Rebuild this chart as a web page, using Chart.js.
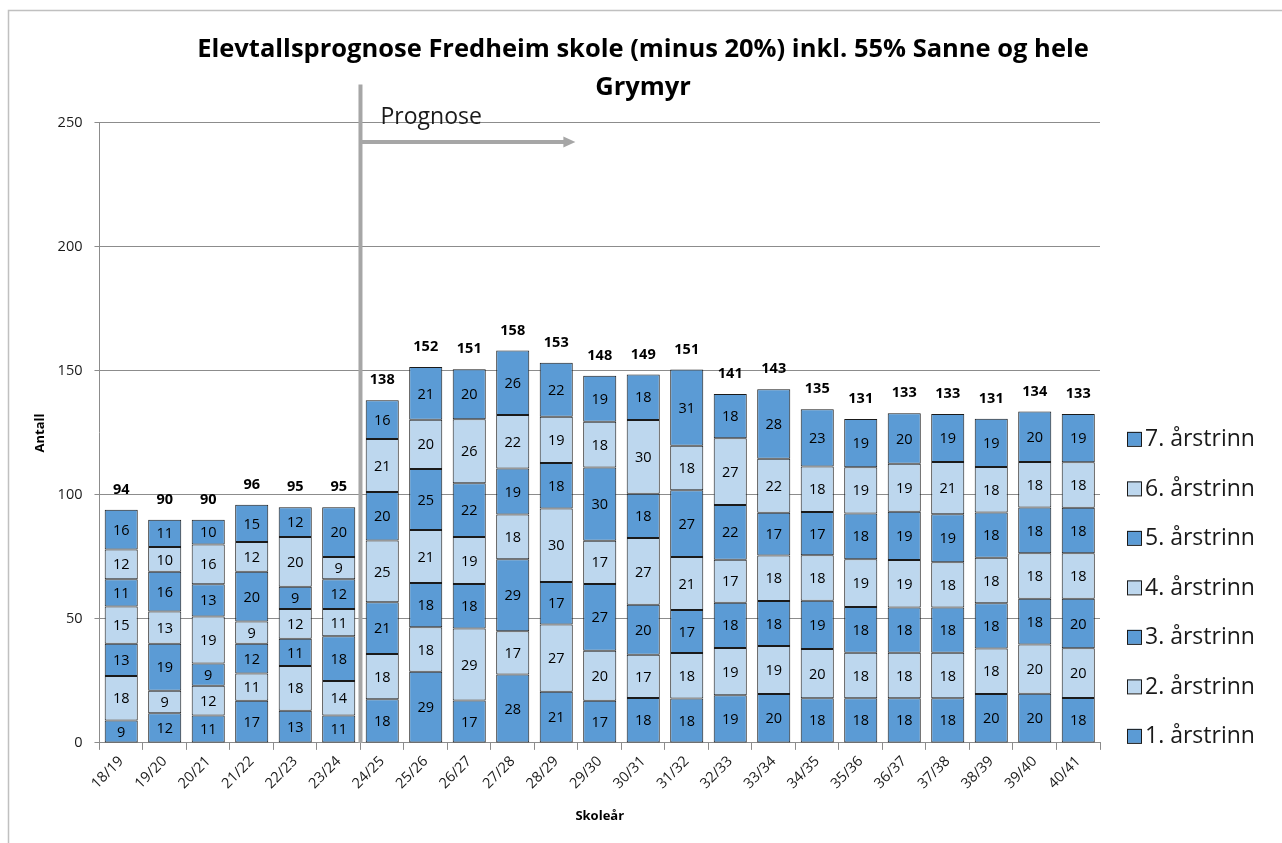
<!DOCTYPE html>
<html>
<head>
<meta charset="utf-8">
<script src="https://cdn.jsdelivr.net/npm/chart.js@4.4.0/dist/chart.umd.min.js"></script>
<style>
  body { margin: 0; background: #fff; }
  #wrap { width: 1282px; height: 843px; }
</style>
</head>
<body>
<div id="wrap"><canvas id="elevChart" width="1282" height="843"></canvas></div>
<script>
// Skoleår (x-akse)
const skoleaar = ['18/19', '19/20', '20/21', '21/22', '22/23', '23/24', '24/25', '25/26', '26/27', '27/28', '28/29', '29/30',
    '30/31', '31/32', '32/33', '33/34', '34/35', '35/36', '36/37', '37/38', '38/39', '39/40', '40/41'];

// elevtall per årstrinn (lest av figuren)
const trinn1 = [9, 12, 11, 17, 13, 11, 17.6, 28.7, 17.1, 27.6, 20.6, 17.0, 18.1, 17.9, 19.2, 19.7, 18.0, 18.0, 18.0, 18.0, 19.7, 19.8, 18.1];
const trinn2 = [18, 9, 12, 11, 18, 14, 18.2, 17.9, 29.0, 17.4, 27.1, 20.2, 17.4, 18.4, 19.1, 19.4, 19.9, 18.4, 18.4, 18.4, 18.4, 19.9, 20.1];
const trinn3 = [13, 19, 9, 12, 11, 18, 20.9, 17.9, 18.0, 29.1, 17.2, 26.9, 20.2, 17.3, 18.2, 18.1, 19.4, 18.4, 18.2, 18.2, 18.2, 18.4, 19.9];
const trinn4 = [15, 13, 19, 9, 12, 11, 24.9, 21.4, 18.9, 18.0, 29.6, 17.4, 26.9, 21.4, 17.4, 18.4, 18.4, 19.3, 19.2, 18.2, 18.4, 18.4, 18.4];
const trinn5 = [11, 16, 13, 20, 9, 12, 19.6, 24.6, 21.7, 18.6, 18.4, 29.6, 17.9, 26.9, 22.0, 17.2, 17.4, 18.4, 19.4, 19.4, 18.2, 18.4, 18.3];
const trinn6 = [12, 10, 16, 12, 20, 9, 21.4, 19.8, 25.8, 21.5, 18.6, 18.4, 29.7, 17.9, 27.0, 21.8, 18.4, 18.7, 19.4, 21.1, 18.4, 18.4, 18.4];
const trinn7 = [16, 11, 10, 15, 12, 20, 15.6, 21.3, 20.2, 26.0, 21.8, 18.6, 18.4, 30.8, 17.8, 28.0, 23.1, 19.4, 20.3, 19.3, 19.4, 20.3, 19.4];

const serier = [trinn1, trinn2, trinn3, trinn4, trinn5, trinn6, trinn7];
const yTicks = [0, 50, 100, 150, 200, 250];

const MORK = '#5b9bd5';
const LYS = '#bdd7ee';
const FONT = "'Open Sans', 'Liberation Sans', sans-serif";

const datasets = serier.map((data, i) => ({
    label: (i + 1) + '. årstrinn',
    data: data,
    backgroundColor: i % 2 === 0 ? MORK : LYS,
    borderColor: '#1a1a1a',
    borderWidth: 1,
    borderSkipped: false,
    barPercentage: 0.76,
    categoryPercentage: 1
}));

// ramme rundt hele figuren
const rammePlugin = {
    id: 'ramme',
    beforeDraw(chart) {
        const ctx = chart.ctx;
        ctx.save();
        ctx.fillStyle = '#fff';
        ctx.fillRect(0, 0, chart.width, chart.height);
        ctx.strokeStyle = '#c0c0c0';
        ctx.lineWidth = 1.5;
        ctx.beginPath();
        ctx.moveTo(8.5, chart.height);
        ctx.lineTo(8.5, 10.5);
        ctx.lineTo(chart.width, 10.5);
        ctx.stroke();
        ctx.restore();
    }
};

// tall i hvert felt + sum over søylene
const etikettPlugin = {
    id: 'etiketter',
    afterDatasetsDraw(chart) {
        const ctx = chart.ctx;
        ctx.save();
        ctx.textAlign = 'center';
        ctx.textBaseline = 'middle';
        ctx.fillStyle = '#000';
        ctx.font = '14.5px ' + FONT;
        chart.data.datasets.forEach((ds, di) => {
            const meta = chart.getDatasetMeta(di);
            meta.data.forEach((bar, i) => {
                ctx.fillText(Math.round(ds.data[i]), bar.x, (bar.y + bar.base) / 2 + 1);
            });
        });
        ctx.font = 'bold 14.5px ' + FONT;
        const topMeta = chart.getDatasetMeta(chart.data.datasets.length - 1);
        topMeta.data.forEach((bar, i) => {
            let sum = 0;
            serier.forEach(s => { sum += s[i]; });
            sum = Math.round(Math.round(sum * 10) / 10);
            ctx.fillText(sum, bar.x, bar.y - 20);
        });
        ctx.restore();
    }
};

// prognoselinje med pil
const prognosePlugin = {
    id: 'prognose',
    afterDatasetsDraw(chart) {
        const ctx = chart.ctx;
        const x = chart.scales.x;
        const y = chart.scales.y;
        const xLinje = (x.getPixelForValue(5) + x.getPixelForValue(6)) / 2;
        const yPil = y.getPixelForValue(242.3);
        const xPilSlutt = x.getPixelForValue(10.44);
        ctx.save();
        ctx.strokeStyle = '#a6a6a6';
        ctx.fillStyle = '#a6a6a6';
        ctx.lineWidth = 4;
        ctx.beginPath();
        ctx.moveTo(xLinje, y.getPixelForValue(265.5));
        ctx.lineTo(xLinje, chart.chartArea.bottom);
        ctx.stroke();
        ctx.beginPath();
        ctx.moveTo(xLinje, yPil);
        ctx.lineTo(xPilSlutt - 10, yPil);
        ctx.stroke();
        ctx.beginPath();
        ctx.moveTo(xPilSlutt, yPil);
        ctx.lineTo(xPilSlutt - 12, yPil - 5.5);
        ctx.lineTo(xPilSlutt - 12, yPil + 5.5);
        ctx.closePath();
        ctx.fill();
        ctx.fillStyle = '#1a1a1a';
        ctx.font = '23px ' + FONT;
        ctx.textAlign = 'left';
        ctx.textBaseline = 'middle';
        ctx.fillText('Prognose', xLinje + 20, y.getPixelForValue(252.3));
        ctx.restore();
    }
};

// forklaring til høyre, øverste trinn først
const forklaringPlugin = {
    id: 'forklaring',
    afterDraw(chart) {
        const ctx = chart.ctx;
        const area = chart.chartArea;
        const n = chart.data.datasets.length;
        ctx.save();
        ctx.font = '23px ' + FONT;
        ctx.textBaseline = 'middle';
        ctx.textAlign = 'left';
        for (let k = 0; k < n; k++) {
            const ds = chart.data.datasets[n - 1 - k];
            const cy = area.bottom - 7 - (n - 1 - k) * 49.5;
            ctx.fillStyle = ds.backgroundColor;
            ctx.fillRect(area.right + 27, cy - 7, 14, 14);
            ctx.strokeStyle = '#1a1a1a';
            ctx.lineWidth = 1;
            ctx.strokeRect(area.right + 27.5, cy - 6.5, 14, 14);
            ctx.fillStyle = '#1a1a1a';
            ctx.fillText(ds.label, area.right + 45, cy + 1);
        }
        ctx.restore();
    }
};

const ctx = document.getElementById('elevChart').getContext('2d');
new Chart(ctx, {
    type: 'bar',
    data: {
        labels: skoleaar,
        datasets: datasets
    },
    options: {
        responsive: false,
        animation: false,
        layout: {
            padding: { left: 4, right: 0, top: 0, bottom: 10 }
        },
        plugins: {
            legend: { display: false },
            tooltip: { enabled: false },
            title: {
                display: true,
                text: ['Elevtallsprognose Fredheim skole (minus 20%) inkl. 55% Sanne og hele', 'Grymyr'],
                color: '#000',
                font: { family: FONT, size: 25.5, weight: 'bold', lineHeight: 1.49 },
                padding: { top: 31, bottom: 16 }
            }
        },
        scales: {
            x: {
                stacked: true,
                grid: {
                    display: true,
                    drawOnChartArea: false,
                    drawTicks: true,
                    tickLength: 7,
                    color: '#8c8c8c'
                },
                border: { color: '#8c8c8c' },
                ticks: {
                    color: '#1a1a1a',
                    font: { family: FONT, size: 14.5 },
                    minRotation: 45,
                    maxRotation: 45,
                    autoSkip: false
                },
                title: {
                    display: true,
                    text: 'Skoleår',
                    color: '#000',
                    font: { family: FONT, size: 13, weight: 'bold' },
                    padding: { top: 13, bottom: 9 }
                }
            },
            y: {
                stacked: true,
                min: 0,
                max: 250,
                afterBuildTicks(axis) {
                    axis.ticks = yTicks.map(v => ({ value: v }));
                },
                grid: {
                    color: '#8c8c8c',
                    tickLength: 5
                },
                border: { color: '#8c8c8c' },
                ticks: {
                    color: '#1a1a1a',
                    font: { family: FONT, size: 14.5 },
                    padding: 12
                },
                title: {
                    display: true,
                    text: 'Antall',
                    color: '#000',
                    font: { family: FONT, size: 13, weight: 'bold' },
                    padding: { top: 28, bottom: -2 }
                }
            },
            // tom akse til høyre som holder plass til forklaringen
            plassHoyre: {
                type: 'linear',
                position: 'right',
                display: true,
                grid: { display: false, drawTicks: false },
                border: { display: false },
                ticks: { display: false },
                afterFit(axis) {
                    axis.width = 182;
                }
            }
        }
    },
    plugins: [rammePlugin, etikettPlugin, prognosePlugin, forklaringPlugin]
});
</script>
</body>
</html>
